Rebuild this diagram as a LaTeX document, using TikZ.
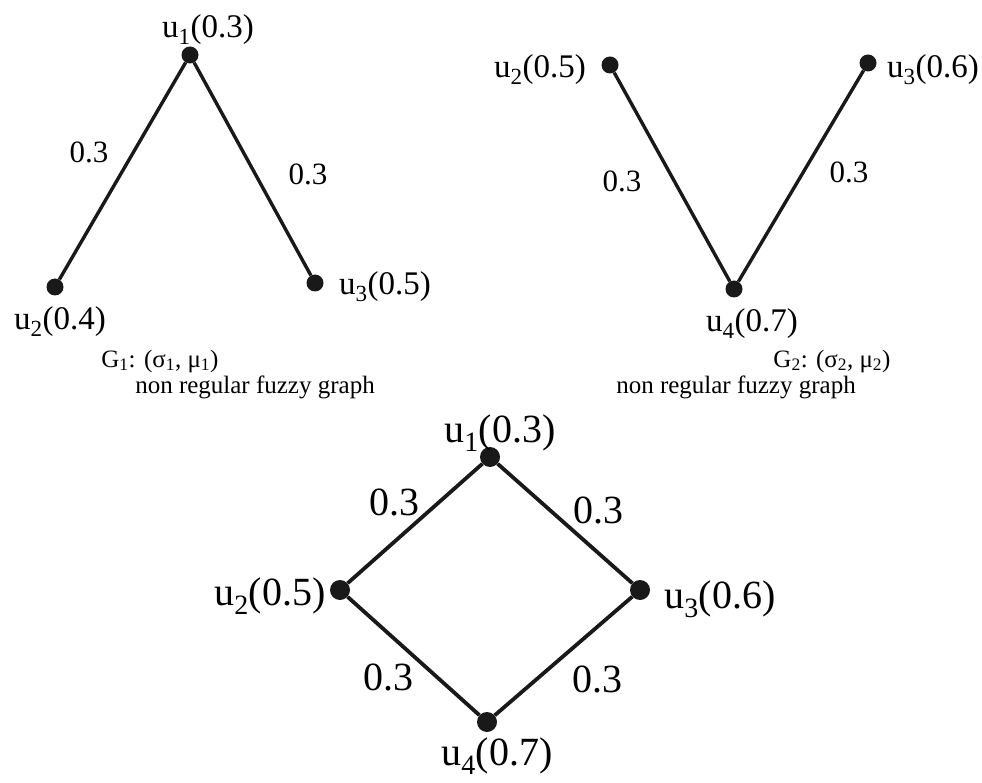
\documentclass[tikz,border=0pt]{standalone}
\usepackage{fontspec}
\setmainfont{Liberation Serif}
\begin{document}
\begin{tikzpicture}[x=1pt,y=-1pt,
  dot/.style={circle,fill=black!90,inner sep=0pt,minimum size=#1},
  dot/.default=17pt,
  edge/.style={line width=3.4pt,black!90},
  bigedge/.style={line width=3.8pt,black!90},
  vlabel/.style={anchor=base,inner sep=0pt,font=\fontsize{33}{38}\selectfont},
  wlabel/.style={anchor=base,inner sep=0pt,font=\fontsize{31}{36}\selectfont},
  biglabel/.style={anchor=base,inner sep=0pt,font=\fontsize{40}{46}\selectfont},
  caption/.style={anchor=base,inner sep=0pt,font=\fontsize{25}{30}\selectfont}]
\useasboundingbox (0,0) rectangle (982,783);

% ---- G1 ----
\node[dot] (a1) at (190,55) {};
\node[dot] (a2) at (55,287) {};
\node[dot] (a3) at (315,283) {};
\draw[edge] (a1) -- (a2);
\draw[edge] (a1) -- (a3);
\node[vlabel] (la1) at (208,38) {u\textsubscript{1}(0.3)};
\node[vlabel] (la2) at (60,330) {u\textsubscript{2}(0.4)};
\node[vlabel] (la3) at (385,295) {u\textsubscript{3}(0.5)};
\node[wlabel] (wa12) at (89,163) {0.3};
\node[wlabel] (wa13) at (308,185) {0.3};
\node[caption] (ca) at (160,367) {G\textsubscript{1}: (σ\textsubscript{1}, μ\textsubscript{1})};
\node[caption] (na) at (255,393) {non regular fuzzy graph};

% ---- G2 ----
\node[dot] (b2) at (610,65) {};
\node[dot] (b3) at (868,63) {};
\node[dot] (b4) at (734,289) {};
\draw[edge] (b2) -- (b4);
\draw[edge] (b3) -- (b4);
\node[vlabel] (lb2) at (540,78) {u\textsubscript{2}(0.5)};
\node[vlabel] (lb3) at (933,78) {u\textsubscript{3}(0.6)};
\node[vlabel] (lb4) at (752,332) {u\textsubscript{4}(0.7)};
\node[wlabel] (wb24) at (622,192) {0.3};
\node[wlabel] (wb34) at (849,183) {0.3};
\node[caption] (cb) at (832,367) {G\textsubscript{2}: (σ\textsubscript{2}, μ\textsubscript{2})};
\node[caption] (nb) at (736,393) {non regular fuzzy graph};

% ---- G1 x G2 ----
\node[dot=20pt] (c1) at (490,457) {};
\node[dot=20pt] (c2) at (340,590) {};
\node[dot=20pt] (c3) at (640,590) {};
\node[dot=20pt] (c4) at (487,722) {};
\draw[bigedge] (c1) -- (c2) -- (c4) -- (c3) -- (c1);
\node[biglabel] (lc1) at (500,442) {u\textsubscript{1}(0.3)};
\node[biglabel] (lc2) at (270,605) {u\textsubscript{2}(0.5)};
\node[biglabel] (lc3) at (720,608) {u\textsubscript{3}(0.6)};
\node[biglabel] (lc4) at (497,765) {u\textsubscript{4}(0.7)};
\node[biglabel] (wc12) at (394,515) {0.3};
\node[biglabel] (wc13) at (598,523) {0.3};
\node[biglabel] (wc24) at (388,690) {0.3};
\node[biglabel] (wc34) at (597,692) {0.3};
\end{tikzpicture}
\end{document}
